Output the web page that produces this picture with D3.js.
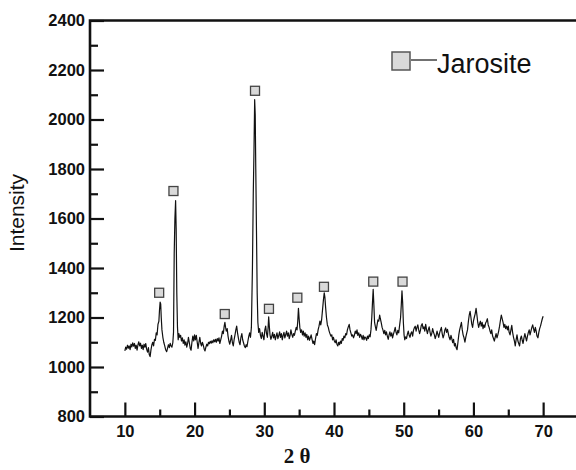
<!DOCTYPE html>
<html lang="en">

<head>
    <title>Jarosite XRD</title>
    <meta charset="utf-8">
    <script src="https://d3js.org/d3.v7.min.js"></script>
    <style>
        body { margin: 0; background: #fff; }
        .tick text { font-family: "Liberation Sans", Arial, sans-serif; font-weight: bold; font-size: 16.5px; fill: #111; }
    </style>
</head>

<body>
    <div id="container"></div>
    <script>
        // Diffraction pattern: [2 theta, intensity]
        const pattern = [
            [10.00, 1065], [10.12, 1080], [10.25, 1072], [10.38, 1088], [10.50, 1076], [10.62, 1085], [10.75, 1070], [10.88, 1092],
            [11.00, 1081], [11.12, 1098], [11.25, 1084], [11.38, 1095], [11.50, 1075], [11.62, 1088], [11.75, 1068], [11.88, 1090],
            [12.00, 1102], [12.12, 1085], [12.25, 1096], [12.38, 1075], [12.50, 1088], [12.62, 1070], [12.75, 1092], [12.88, 1080],
            [13.00, 1095], [13.12, 1072], [13.25, 1060], [13.38, 1078], [13.50, 1050], [13.62, 1042], [13.75, 1070], [13.88, 1090],
            [14.00, 1100], [14.12, 1085], [14.25, 1112], [14.38, 1108], [14.50, 1138], [14.62, 1130], [14.75, 1172], [14.88, 1185],
            [14.97, 1230], [15.06, 1262], [15.14, 1255], [15.22, 1200], [15.32, 1150], [15.45, 1120], [15.58, 1100], [15.72, 1085],
            [15.85, 1070], [16.00, 1062], [16.12, 1075], [16.25, 1090], [16.38, 1078], [16.50, 1096], [16.62, 1085], [16.75, 1080],
            [16.88, 1098], [16.98, 1140], [17.08, 1460], [17.18, 1600], [17.28, 1672], [17.36, 1560], [17.45, 1300], [17.55, 1160],
            [17.65, 1110], [17.75, 1135], [17.88, 1120], [18.00, 1128], [18.12, 1105], [18.25, 1118], [18.38, 1095], [18.50, 1110],
            [18.62, 1088], [18.75, 1102], [18.88, 1080], [19.00, 1095], [19.12, 1120], [19.25, 1098], [19.38, 1075], [19.50, 1068],
            [19.62, 1100], [19.75, 1125], [19.88, 1105], [20.00, 1130], [20.12, 1110], [20.25, 1128], [20.38, 1100], [20.50, 1075],
            [20.62, 1098], [20.75, 1120], [20.88, 1095], [21.00, 1085], [21.12, 1100], [21.25, 1088], [21.38, 1072], [21.50, 1065],
            [21.62, 1080], [21.75, 1092], [21.88, 1085], [22.00, 1100], [22.12, 1094], [22.25, 1104], [22.38, 1096], [22.50, 1106],
            [22.62, 1098], [22.75, 1110], [22.88, 1102], [23.00, 1112], [23.12, 1100], [23.25, 1115], [23.38, 1105], [23.50, 1118],
            [23.62, 1095], [23.75, 1110], [23.88, 1125], [24.00, 1145], [24.12, 1135], [24.25, 1165], [24.35, 1180], [24.45, 1160],
            [24.55, 1145], [24.68, 1155], [24.80, 1125], [24.92, 1105], [25.05, 1092], [25.18, 1110], [25.30, 1128], [25.42, 1100],
            [25.55, 1085], [25.68, 1112], [25.80, 1130], [25.92, 1150], [26.04, 1165], [26.15, 1140], [26.28, 1118], [26.40, 1100],
            [26.52, 1090], [26.65, 1120], [26.78, 1135], [26.90, 1110], [27.02, 1098], [27.15, 1085], [27.28, 1078], [27.40, 1090],
            [27.52, 1082], [27.65, 1105], [27.78, 1125], [27.90, 1138], [28.02, 1120], [28.15, 1160], [28.30, 1400], [28.42, 1700],
            [28.52, 1870], [28.62, 2080], [28.70, 2020], [28.78, 1800], [28.88, 1550], [28.98, 1300], [29.08, 1180], [29.20, 1140],
            [29.32, 1155], [29.45, 1128], [29.58, 1115], [29.70, 1140], [29.82, 1125], [29.95, 1110], [30.08, 1150], [30.20, 1165],
            [30.32, 1135], [30.45, 1120], [30.55, 1160], [30.63, 1203], [30.72, 1165], [30.82, 1130], [30.95, 1112], [31.08, 1125],
            [31.20, 1140], [31.32, 1118], [31.45, 1132], [31.58, 1110], [31.70, 1125], [31.82, 1138], [31.95, 1115], [32.08, 1128],
            [32.20, 1142], [32.32, 1120], [32.45, 1135], [32.58, 1110], [32.70, 1128], [32.82, 1140], [32.95, 1118], [33.08, 1132],
            [33.20, 1145], [33.32, 1125], [33.45, 1138], [33.58, 1115], [33.70, 1128], [33.82, 1150], [33.95, 1132], [34.08, 1120],
            [34.20, 1135], [34.32, 1128], [34.45, 1145], [34.58, 1160], [34.70, 1150], [34.80, 1185], [34.90, 1237], [35.00, 1195],
            [35.10, 1160], [35.22, 1140], [35.35, 1150], [35.48, 1130], [35.60, 1145], [35.72, 1125], [35.85, 1138], [35.98, 1120],
            [36.10, 1132], [36.22, 1110], [36.35, 1125], [36.48, 1108], [36.60, 1118], [36.72, 1130], [36.85, 1112], [36.98, 1095],
            [37.10, 1105], [37.22, 1090], [37.35, 1115], [37.48, 1135], [37.60, 1128], [37.72, 1150], [37.85, 1165], [37.98, 1185],
            [38.10, 1170], [38.22, 1190], [38.35, 1230], [38.48, 1270], [38.60, 1300], [38.70, 1280], [38.80, 1240], [38.92, 1200],
            [39.05, 1170], [39.18, 1160], [39.30, 1145], [39.42, 1135], [39.55, 1125], [39.68, 1130], [39.80, 1110], [39.92, 1120],
            [40.05, 1105], [40.18, 1098], [40.30, 1110], [40.42, 1092], [40.55, 1085], [40.68, 1100], [40.80, 1090], [40.92, 1105],
            [41.05, 1095], [41.18, 1115], [41.30, 1108], [41.42, 1125], [41.55, 1118], [41.68, 1135], [41.80, 1130], [41.92, 1150],
            [42.05, 1162], [42.18, 1172], [42.30, 1150], [42.42, 1138], [42.55, 1125], [42.68, 1130], [42.80, 1118], [42.92, 1128],
            [43.05, 1145], [43.18, 1135], [43.30, 1150], [43.42, 1128], [43.55, 1138], [43.68, 1120], [43.80, 1132], [43.92, 1125],
            [44.05, 1112], [44.18, 1128], [44.30, 1110], [44.42, 1122], [44.55, 1118], [44.68, 1108], [44.80, 1125], [44.92, 1115],
            [45.05, 1130], [45.18, 1122], [45.30, 1150], [45.42, 1200], [45.52, 1260], [45.62, 1314], [45.72, 1250], [45.82, 1180],
            [45.92, 1165], [46.05, 1148], [46.18, 1170], [46.30, 1190], [46.42, 1185], [46.55, 1210], [46.65, 1195], [46.78, 1178],
            [46.90, 1160], [47.02, 1150], [47.15, 1135], [47.28, 1148], [47.40, 1130], [47.52, 1142], [47.65, 1125], [47.78, 1112],
            [47.90, 1130], [48.02, 1142], [48.15, 1125], [48.28, 1138], [48.40, 1118], [48.52, 1132], [48.65, 1145], [48.78, 1160],
            [48.90, 1140], [49.02, 1130], [49.15, 1148], [49.28, 1138], [49.42, 1170], [49.55, 1200], [49.65, 1250], [49.75, 1308],
            [49.85, 1260], [49.95, 1180], [50.05, 1130], [50.15, 1110], [50.28, 1122], [50.40, 1115], [50.52, 1132], [50.65, 1145],
            [50.78, 1128], [50.90, 1120], [51.02, 1135], [51.15, 1142], [51.28, 1125], [51.40, 1148], [51.52, 1158], [51.65, 1165],
            [51.78, 1145], [51.90, 1160], [52.02, 1170], [52.15, 1150], [52.28, 1135], [52.40, 1148], [52.52, 1168], [52.65, 1175],
            [52.78, 1155], [52.90, 1162], [53.02, 1145], [53.15, 1172], [53.28, 1150], [53.40, 1135], [53.52, 1150], [53.65, 1162],
            [53.78, 1140], [53.90, 1125], [54.02, 1135], [54.15, 1155], [54.28, 1140], [54.40, 1130], [54.52, 1115], [54.65, 1128],
            [54.78, 1145], [54.90, 1132], [55.02, 1120], [55.15, 1138], [55.28, 1150], [55.40, 1160], [55.52, 1135], [55.65, 1118],
            [55.78, 1130], [55.90, 1150], [56.02, 1158], [56.15, 1140], [56.28, 1152], [56.40, 1135], [56.52, 1120], [56.65, 1110],
            [56.78, 1128], [56.90, 1115], [57.02, 1098], [57.15, 1112], [57.28, 1085], [57.40, 1095], [57.52, 1078], [57.65, 1070],
            [57.78, 1100], [57.90, 1130], [58.02, 1150], [58.15, 1165], [58.28, 1180], [58.40, 1150], [58.52, 1130], [58.65, 1118],
            [58.78, 1100], [58.90, 1120], [59.02, 1135], [59.15, 1150], [59.28, 1185], [59.40, 1210], [59.52, 1225], [59.62, 1205],
            [59.75, 1175], [59.88, 1160], [60.00, 1185], [60.12, 1200], [60.25, 1215], [60.38, 1237], [60.50, 1210], [60.62, 1180],
            [60.75, 1160], [60.88, 1175], [61.00, 1185], [61.12, 1165], [61.25, 1180], [61.38, 1155], [61.50, 1170], [61.62, 1160],
            [61.75, 1178], [61.88, 1185], [62.00, 1195], [62.12, 1170], [62.25, 1160], [62.38, 1145], [62.50, 1135], [62.62, 1150],
            [62.75, 1125], [62.88, 1115], [63.00, 1105], [63.12, 1120], [63.25, 1135], [63.38, 1118], [63.50, 1130], [63.62, 1145],
            [63.75, 1165], [63.88, 1190], [64.00, 1210], [64.12, 1195], [64.25, 1180], [64.38, 1160], [64.50, 1172], [64.62, 1155],
            [64.75, 1165], [64.88, 1150], [65.00, 1165], [65.12, 1140], [65.25, 1130], [65.38, 1150], [65.50, 1168], [65.62, 1140],
            [65.75, 1120], [65.88, 1105], [66.00, 1085], [66.12, 1110], [66.25, 1130], [66.38, 1105], [66.50, 1095], [66.62, 1085],
            [66.75, 1115], [66.88, 1125], [67.00, 1108], [67.12, 1095], [67.25, 1118], [67.38, 1135], [67.50, 1120], [67.62, 1105],
            [67.75, 1125], [67.88, 1140], [68.00, 1150], [68.12, 1130], [68.25, 1145], [68.38, 1160], [68.50, 1170], [68.62, 1155],
            [68.75, 1140], [68.88, 1160], [69.00, 1145], [69.12, 1125], [69.25, 1118], [69.38, 1140], [69.50, 1155], [69.62, 1165],
            [69.75, 1180], [69.88, 1195], [70.00, 1205]
        ];

        // Jarosite markers above the peaks
        const markerTheta = [14.92, 16.97, 24.33, 28.67, 30.67, 34.74, 38.56, 45.63, 49.83];
        const markerIntensity = [1300, 1711, 1214, 2116, 1235, 1280, 1324, 1345, 1345];

        // Ticks
        const xMajor = [10, 20, 30, 40, 50, 60, 70];
        const xMinor = [15, 25, 35, 45, 55, 65];
        const yMajor = [800, 1000, 1200, 1400, 1600, 1800, 2000, 2200, 2400];
        const yMinor = [900, 1100, 1300, 1500, 1700, 1900, 2100, 2300];

        // Chart dimensions
        const W = 576, H = 470;
        const margin = { top: 20.5, right: 0, bottom: 53.5, left: 90 };

        const svg = d3.select("#container")
            .append("svg")
            .attr("width", W)
            .attr("height", H);

        // Create scales
        const xScale = d3.scaleLinear()
            .domain([5, 75])
            .range([margin.left, 578]);

        const yScale = d3.scaleLinear()
            .domain([800, 2400])
            .range([H - margin.bottom, margin.top]);

        // Draw data
        const line = d3.line()
            .x(d => xScale(d[0]))
            .y(d => yScale(d[1]));

        svg.append("path")
            .datum(pattern)
            .attr("d", line)
            .attr("fill", "none")
            .attr("stroke", "#111")
            .attr("stroke-width", 1.2)
            .attr("stroke-linejoin", "round");

        svg.selectAll(".marker")
            .data(markerTheta)
            .enter().append("rect")
            .attr("class", "marker")
            .attr("x", d => xScale(d) - 4.5)
            .attr("y", (d, i) => yScale(markerIntensity[i]) - 4.5)
            .attr("width", 9)
            .attr("height", 9)
            .attr("fill", "#d9d9d9")
            .attr("stroke", "#444")
            .attr("stroke-width", 1.3);

        // Draw peripherals
        const yBottom = H - margin.bottom;
        const fmt = d3.format("d");

        svg.append("g")
            .attr("transform", `translate(0,${yBottom})`)
            .call(d3.axisBottom(xScale).tickValues(xMinor).tickSize(-7).tickFormat(""))
            .call(g => g.select(".domain").remove())
            .selectAll("line").attr("stroke", "#111").attr("stroke-width", 2.2);

        svg.append("g")
            .attr("transform", `translate(0,${yBottom})`)
            .call(d3.axisBottom(xScale).tickValues(xMajor).tickSize(-14).tickPadding(9).tickFormat(fmt))
            .call(g => g.select(".domain").remove())
            .selectAll("line").attr("stroke", "#111").attr("stroke-width", 2.2);

        svg.append("g")
            .attr("transform", `translate(${margin.left},0)`)
            .call(d3.axisLeft(yScale).tickValues(yMinor).tickSize(-8).tickFormat(""))
            .call(g => g.select(".domain").remove())
            .selectAll("line").attr("stroke", "#111").attr("stroke-width", 2.2);

        svg.append("g")
            .attr("transform", `translate(${margin.left},0)`)
            .call(d3.axisLeft(yScale).tickValues(yMajor).tickSize(-14).tickPadding(5).tickFormat(fmt))
            .call(g => g.select(".domain").remove())
            .selectAll("line").attr("stroke", "#111").attr("stroke-width", 2.2);

        // Frame: left, bottom, top
        svg.append("path")
            .attr("d", `M${W},${margin.top}H${margin.left}V${yBottom}H${W}`)
            .attr("fill", "none")
            .attr("stroke", "#111")
            .attr("stroke-width", 2.6);

        // Axis titles
        svg.append("text")
            .attr("transform", `translate(24,213) rotate(-90)`)
            .attr("text-anchor", "middle")
            .style("font-family", "'Liberation Sans', Arial, sans-serif")
            .style("font-size", "21px")
            .attr("fill", "#111")
            .text("Intensity");

        svg.append("text")
            .attr("x", 297)
            .attr("y", 463)
            .attr("text-anchor", "middle")
            .style("font-family", "'Liberation Serif', 'Times New Roman', serif")
            .style("font-size", "21px")
            .style("font-weight", "bold")
            .attr("fill", "#111")
            .text("2 θ");

        // Legend
        svg.append("rect")
            .attr("x", 392)
            .attr("y", 52)
            .attr("width", 18)
            .attr("height", 18)
            .attr("fill", "#d9d9d9")
            .attr("stroke", "#555")
            .attr("stroke-width", 1.5);

        svg.append("line")
            .attr("x1", 411)
            .attr("x2", 437)
            .attr("y1", 60)
            .attr("y2", 60)
            .attr("stroke", "#111")
            .attr("stroke-width", 1.2);

        svg.append("text")
            .attr("x", 437)
            .attr("y", 73)
            .style("font-family", "'Liberation Sans', Arial, sans-serif")
            .style("font-size", "27px")
            .attr("fill", "#111")
            .text("Jarosite");
    </script>
</body>

</html>
